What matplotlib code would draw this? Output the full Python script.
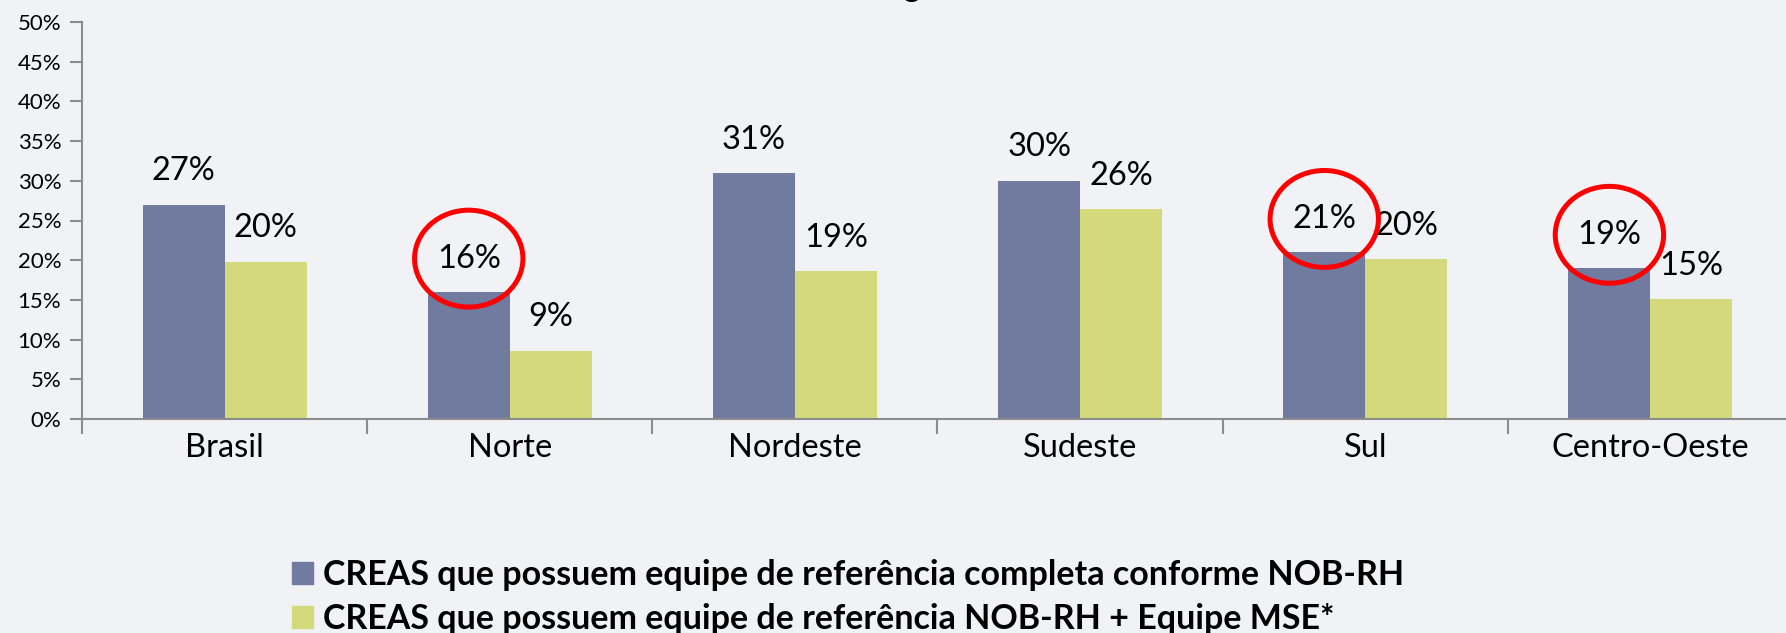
import matplotlib.pyplot as plt
from matplotlib.patches import Ellipse, Patch
import numpy as np

plt.rcParams['font.family'] = ['Lato', 'DejaVu Sans']

# data
regions = ['Brasil', 'Norte', 'Nordeste', 'Sudeste', 'Sul', 'Centro-Oeste']
completa = [27, 16, 31, 30, 21, 19]
mse = [19.8, 8.6, 18.6, 26.4, 20.1, 15.1]
completa_labels = ['27%', '16%', '31%', '30%', '21%', '19%']
mse_labels = ['20%', '9%', '19%', '26%', '20%', '15%']
circled = ['Norte', 'Sul', 'Centro-Oeste']
series_names = ['CREAS que possuem equipe de referência completa conforme NOB-RH',
                'CREAS que possuem equipe de referência NOB-RH + Equipe MSE*']

BLUE = '#717BA0'
YELLOW = '#D4DA7B'
BG = '#F1F2F6'

fig = plt.figure(figsize=(17.86, 6.33), dpi=100, facecolor=BG)
ax = fig.add_axes([82 / 1786, 214 / 633, 1711 / 1786, 397 / 633])
ax.set_facecolor(BG)

x = np.arange(len(regions))
w = 0.2875
ax.bar(x - w / 2, completa, w, color=BLUE)
ax.bar(x + w / 2, mse, w, color=YELLOW)

off = 4.2
for i in range(len(regions)):
    ax.text(x[i] - w / 2, completa[i] + off, completa_labels[i], ha='center', va='center',
            fontsize=23.5, clip_on=False)
    ax.text(x[i] + w / 2, mse[i] + off, mse_labels[i], ha='center', va='center',
            fontsize=23.5, clip_on=False)
    if regions[i] in circled:
        ax.add_patch(Ellipse((x[i] - w / 2, completa[i] + off), 0.38, 12.2, fill=False,
                             edgecolor='#FF0000', linewidth=3.6, clip_on=False, zorder=5))

ax.set_xlim(-0.5, len(regions) - 0.5)
ax.set_ylim(0, 50)
ax.set_yticks(np.arange(0, 51, 5))
ax.set_yticklabels([f'{v}%' for v in range(0, 51, 5)], fontsize=16)
ax.set_xticks(np.arange(-0.5, len(regions), 1.0))
ax.set_xticklabels([])
ax.set_xticks(x, minor=True)
ax.set_xticklabels(regions, minor=True, fontsize=23.5)
ax.tick_params(axis='x', which='major', length=11, width=1.5, color='#8C8C8C', direction='out')
ax.tick_params(axis='x', which='minor', length=0, pad=10)
ax.tick_params(axis='y', length=9, width=1.5, color='#8C8C8C', pad=6)

for s in ['top', 'right']:
    ax.spines[s].set_visible(False)
for s in ['left', 'bottom']:
    ax.spines[s].set_color('#8C8C8C')
    ax.spines[s].set_linewidth(1.5)

handles = [Patch(color=BLUE), Patch(color=YELLOW)]
fig.legend(handles, series_names, loc='upper left', bbox_to_anchor=(278 / 1786, 88 / 633),
           frameon=False, prop={'size': 24.5, 'weight': 'bold'}, handlelength=0.62,
           handleheight=0.62, handletextpad=0.3, labelspacing=0.36, borderaxespad=0)

# title cut off by the top edge, only a descender peeks in
fig.text(911 / 1786, 1.004, 'g', ha='center', va='baseline', fontsize=22, fontweight='bold')

fig.savefig('out.png', dpi=100, facecolor=BG)
